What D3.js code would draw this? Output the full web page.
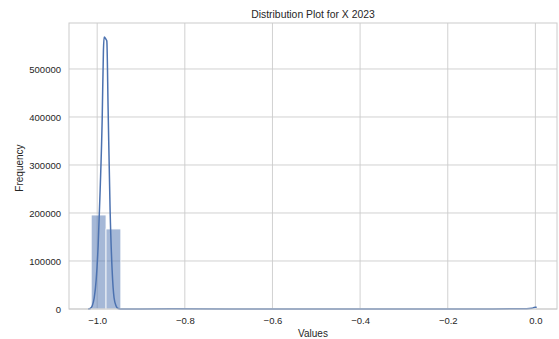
<!DOCTYPE html>
<html>
<head>
<meta charset="utf-8">
<script src="https://cdn.jsdelivr.net/npm/d3@7"></script>
<style>
  body { margin: 0; background: #fff; }
  text { font-family: "Liberation Sans", Arial, sans-serif; fill: #262626; }
</style>
</head>
<body>
<div id="chart"></div>
<script>
// histogram: 30 bins between the data min and max
let binMin = -1.0136;
let binMax = 0.0;
let binCounts = [195800, 166700, 0, 0, 0, 0, 0, 0, 0, 0,
                 0, 0, 0, 0, 0, 0, 0, 0, 0, 0,
                 0, 0, 0, 0, 0, 0, 0, 0, 0, 1200];

// kde curve
let kdeX = [-1.0205, -1.0159, -1.0114, -1.0068, -1.0023, -0.9977, -0.9932, -0.9886,
            -0.9857, -0.9841, -0.9800, -0.9780, -0.9750, -0.9705, -0.9659, -0.9614,
            -0.9568, -0.9523, -0.9477, -0.90, -0.83, -0.70, -0.50, -0.30, -0.10,
            -0.02, -0.008, -0.003, 0.0, 0.003];
let kdeY = [0, 1040, 6250, 22900, 60400, 133300, 247900, 393750,
            539600, 566700, 562000, 558300, 414600, 206250, 81250, 22900,
            6250, 1040, 200, 150, 500, 150, 100, 100, 150,
            500, 1500, 3000, 3500, 3800];

let xTicks = [-1.0, -0.8, -0.6, -0.4, -0.2, 0.0];
let yTicks = [0, 100000, 200000, 300000, 400000, 500000];

// size
let width = 559;
let height = 339;
let margin = { top: 23, right: 2, bottom: 30, left: 69 };
let chartWidth = width - margin.left - margin.right;
let chartHeight = height - margin.top - margin.bottom;

let svg = d3.select("#chart")
            .append("svg")
            .attr("width", width)
            .attr("height", height);

let chartGroup = svg.append("g").attr("transform", `translate(${margin.left}, ${margin.top})`);

// scales (matplotlib style 5% padding)
let xScale = d3.scaleLinear()
               .domain([-1.0643, 0.0493])
               .range([0, chartWidth]);

let yScale = d3.scaleLinear()
               .domain([0, 595800])
               .range([chartHeight, 0]);

// grid
chartGroup.append("g")
    .selectAll("line")
    .data(xTicks)
    .enter()
    .append("line")
    .attr("x1", d => xScale(d))
    .attr("x2", d => xScale(d))
    .attr("y1", 0)
    .attr("y2", chartHeight)
    .attr("stroke", "#cccccc")
    .attr("stroke-width", 0.9);

chartGroup.append("g")
    .selectAll("line")
    .data(yTicks)
    .enter()
    .append("line")
    .attr("x1", 0)
    .attr("x2", chartWidth)
    .attr("y1", d => yScale(d))
    .attr("y2", d => yScale(d))
    .attr("stroke", "#cccccc")
    .attr("stroke-width", 0.9);

// bars
let binWidth = (binMax - binMin) / binCounts.length;
chartGroup.append("g")
    .selectAll("rect")
    .data(binCounts)
    .enter()
    .append("rect")
    .attr("x", (d, i) => xScale(binMin + i * binWidth))
    .attr("width", (d, i) => xScale(binMin + (i + 1) * binWidth) - xScale(binMin + i * binWidth))
    .attr("y", d => yScale(d))
    .attr("height", d => chartHeight - yScale(d))
    .attr("fill", "rgba(76,114,176,0.5)")
    .attr("stroke", "#ffffff")
    .attr("stroke-width", 0.8);

// kde line
let line = d3.line()
    .x((d, i) => xScale(kdeX[i]))
    .y(d => yScale(d))
    .curve(d3.curveMonotoneX);

chartGroup.append("path")
    .datum(kdeY)
    .attr("d", line)
    .attr("fill", "none")
    .attr("stroke", "#4c72b0")
    .attr("stroke-width", 1.5);

// frame
chartGroup.append("rect")
    .attr("width", chartWidth)
    .attr("height", chartHeight)
    .attr("fill", "none")
    .attr("stroke", "#cccccc")
    .attr("stroke-width", 1);

// axes
let xAxis = d3.axisBottom(xScale).tickValues(xTicks).tickSize(0).tickPadding(8)
              .tickFormat(d => d3.format(".1f")(d).replace("-", "\u2212"));
let yAxis = d3.axisLeft(yScale).tickValues(yTicks).tickSize(0).tickPadding(8)
              .tickFormat(d3.format("d"));

let gx = chartGroup.append("g").attr("transform", `translate(0, ${chartHeight})`).call(xAxis);
let gy = chartGroup.append("g").call(yAxis);
[gx, gy].forEach(g => {
    g.select(".domain").remove();
    g.selectAll("text").style("font-size", "9.5px").style("fill", "#262626");
});

// labels
svg.append("text")
    .attr("x", margin.left + chartWidth / 2)
    .attr("y", 18)
    .attr("text-anchor", "middle")
    .style("font-size", "10.4px")
    .text("Distribution Plot for X 2023");

svg.append("text")
    .attr("x", margin.left + chartWidth / 2)
    .attr("y", 337)
    .attr("text-anchor", "middle")
    .style("font-size", "10px")
    .text("Values");

svg.append("text")
    .attr("transform", "rotate(-90)")
    .attr("x", -168)
    .attr("y", 23)
    .attr("text-anchor", "middle")
    .style("font-size", "10px")
    .text("Frequency");
</script>
</body>
</html>
